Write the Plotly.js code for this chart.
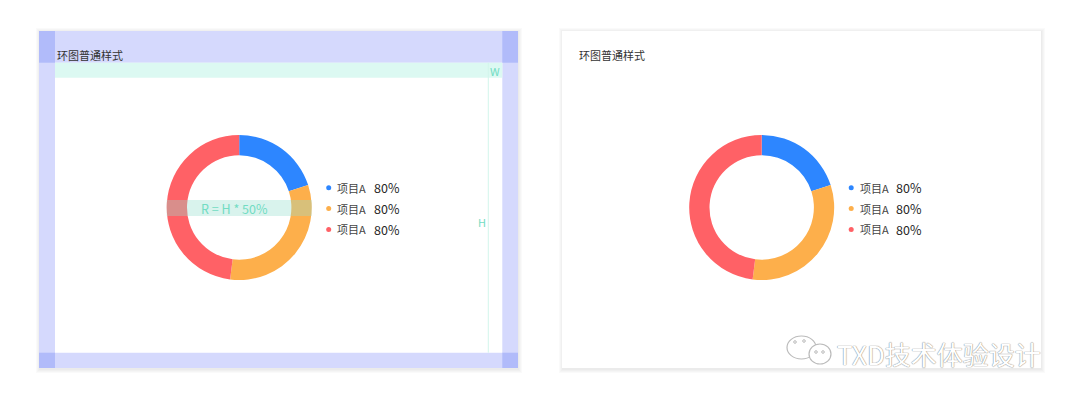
<!DOCTYPE html>
<html>
<head>
<meta charset="utf-8">
<script src="https://cdn.plot.ly/plotly-3.0.1.min.js"></script>
<style>
  html, body { margin: 0; padding: 0; background: #ffffff; }
  #chart { width: 1080px; height: 400px; }
</style>
</head>
<body>
<div id="chart"></div>
<script>
// ---------- data ----------
const chartTitle = '环图普通样式';
const sliceIds = ['项目A-1', '项目A-2', '项目A-3'];
const sliceValues = [20, 32, 48];
const sliceColors = ['#2d86ff', '#fdaf4b', '#ff6166'];
const legendLabels = ['项目A', '项目A', '项目A'];
const legendValues = ['80%', '80%', '80%'];
const radiusNote = 'R = H * 50%';
const watermarkText = 'TXD技术体验设计';

// ---------- helpers ----------
const W = 1080, H = 400;
const fx = x => x / W;
const fy = y => 1 - y / H;
const FONT = '"Noto Sans CJK SC", "PingFang SC", "Microsoft YaHei", sans-serif';

const panels = [
  { left: 39, right: 518, top: 31, bottom: 368, cx: 239.2, cy: 207.5, annotated: true, titleX: 56 },
  { left: 562, right: 1041, top: 31, bottom: 368, cx: 761.7, cy: 207.5, annotated: false, titleX: 578 }
];
const R = 72.5;

const traces = [];
const shapes = [];
const annotations = [];

panels.forEach((p, k) => {
  for (let i = 1; i <= 4; i++) {
    shapes.push({ type: 'rect', xref: 'paper', yref: 'paper', layer: 'below',
      x0: fx(p.left - i + 1), x1: fx(p.right + i), y0: fy(p.bottom + i + 1), y1: fy(p.top - i + 1),
      fillcolor: 'rgba(0,0,0,0.018)', line: { width: 0 } });
  }
  shapes.push({ type: 'rect', xref: 'paper', yref: 'paper', layer: 'below',
    x0: fx(p.left), x1: fx(p.right), y0: fy(p.bottom), y1: fy(p.top),
    fillcolor: '#ffffff', line: { width: 0 } });

  if (p.annotated) {
    const band = '#d5d9fd', corner = '#b1bbfa';
    const iL = 55, iR = 502.3, iT = 62.7, iB = 352.7;
    [[p.left, p.right, p.top, iT], [p.left, p.right, iB, p.bottom],
     [p.left, iL, p.top, p.bottom], [iR, p.right, p.top, p.bottom]].forEach(b => {
      shapes.push({ type: 'rect', xref: 'paper', yref: 'paper', layer: 'below',
        x0: fx(b[0]), x1: fx(b[1]), y0: fy(b[3]), y1: fy(b[2]),
        fillcolor: band, line: { width: 0 } });
    });
    [[p.left, iL, p.top, iT], [iR, p.right, p.top, iT],
     [p.left, iL, iB, p.bottom], [iR, p.right, iB, p.bottom]].forEach(b => {
      shapes.push({ type: 'rect', xref: 'paper', yref: 'paper', layer: 'below',
        x0: fx(b[0]), x1: fx(b[1]), y0: fy(b[3]), y1: fy(b[2]),
        fillcolor: corner, line: { width: 0 } });
    });
    shapes.push({ type: 'rect', xref: 'paper', yref: 'paper', layer: 'below',
      x0: fx(iL), x1: fx(iR), y0: fy(77.7), y1: fy(iT),
      fillcolor: '#dcf9f2', line: { width: 0 } });
    shapes.push({ type: 'line', xref: 'paper', yref: 'paper', layer: 'below',
      x0: fx(488.3), x1: fx(488.3), y0: fy(iB), y1: fy(iT),
      line: { color: '#d2f5ec', width: 1 } });
    shapes.push({ type: 'rect', xref: 'paper', yref: 'paper', layer: 'above',
      x0: fx(p.cx - R), x1: fx(p.cx + R), y0: fy(216), y1: fy(200),
      fillcolor: 'rgba(150,222,205,0.36)', line: { width: 0 } });
    annotations.push({ xref: 'paper', yref: 'paper', x: fx(p.cx - 5), y: fy(208), text: radiusNote,
      showarrow: false, xanchor: 'center', yanchor: 'middle',
      font: { family: FONT, size: 12.5, color: '#72dcc3' } });
    annotations.push({ xref: 'paper', yref: 'paper', x: fx(494.5), y: fy(71), text: 'W',
      showarrow: false, xanchor: 'center', yanchor: 'middle',
      font: { family: FONT, size: 11, color: '#72dcc3' } });
    annotations.push({ xref: 'paper', yref: 'paper', x: fx(481.5), y: fy(222), text: 'H',
      showarrow: false, xanchor: 'center', yanchor: 'middle',
      font: { family: FONT, size: 11, color: '#72dcc3' } });
  }

  annotations.push({ xref: 'paper', yref: 'paper', x: fx(p.titleX - 1), y: fy(55), text: chartTitle,
    showarrow: false, xanchor: 'left', yanchor: 'middle',
    font: { family: FONT, size: 11, color: '#333333' } });

  traces.push({
    type: 'pie',
    labels: sliceIds,
    values: sliceValues,
    marker: { colors: sliceColors, line: { width: 0 } },
    hole: 0.72,
    sort: false,
    direction: 'clockwise',
    rotation: 0,
    textinfo: 'none',
    hoverinfo: 'skip',
    showlegend: false,
    domain: { x: [fx(p.cx - R), fx(p.cx + R)], y: [fy(p.cy + R), fy(p.cy - R)] }
  });

  legendLabels.forEach((lab, i) => {
    const y = 187.8 + i * 20.8;
    const dx = p.cx + 89.5;
    shapes.push({ type: 'circle', xref: 'paper', yref: 'paper', layer: 'above',
      x0: fx(dx - 2.5), x1: fx(dx + 2.5), y0: fy(y + 2.5), y1: fy(y - 2.5),
      fillcolor: sliceColors[i], line: { width: 0 } });
    annotations.push({ xref: 'paper', yref: 'paper', x: fx(p.cx + 96), y: fy(y), text: lab,
      showarrow: false, xanchor: 'left', yanchor: 'middle',
      font: { family: FONT, size: 11, color: '#444444' } });
    annotations.push({ xref: 'paper', yref: 'paper', x: fx(p.cx + 132.5), y: fy(y), text: legendValues[i],
      showarrow: false, xanchor: 'left', yanchor: 'middle',
      font: { family: FONT, size: 12.5, color: '#262626' } });
  });
});

shapes.push({ type: 'circle', xref: 'paper', yref: 'paper', layer: 'above',
  x0: fx(787), x1: fx(816), y0: fy(359), y1: fy(336),
  fillcolor: '#ffffff', line: { color: '#bbbbbb', width: 1.2 } });
shapes.push({ type: 'circle', xref: 'paper', yref: 'paper', layer: 'above',
  x0: fx(809), x1: fx(831), y0: fy(364), y1: fy(344),
  fillcolor: '#ffffff', line: { color: '#bbbbbb', width: 1.2 } });
[[795, 342], [804, 341], [816, 352], [823, 352]].forEach(e => {
  shapes.push({ type: 'circle', xref: 'paper', yref: 'paper', layer: 'above',
    x0: fx(e[0] - 1.3), x1: fx(e[0] + 1.3), y0: fy(e[1] + 1.3), y1: fy(e[1] - 1.3),
    fillcolor: '#ffffff', line: { color: '#aaaaaa', width: 0.8 } });
});
annotations.push({ xref: 'paper', yref: 'paper', x: fx(835), y: fy(353), text: watermarkText,
  showarrow: false, xanchor: 'left', yanchor: 'middle',
  font: { family: FONT, size: 26, color: '#ffffff',
          shadow: '0px 0px 1px #888, 0px 0px 1px #888' } });

const layout = {
  width: W, height: H,
  margin: { l: 0, r: 0, t: 0, b: 0 },
  paper_bgcolor: '#ffffff',
  plot_bgcolor: '#ffffff',
  showlegend: false,
  shapes: shapes,
  annotations: annotations
};

Plotly.newPlot('chart', traces, layout, { displayModeBar: false, staticPlot: true });
</script>
</body>
</html>
